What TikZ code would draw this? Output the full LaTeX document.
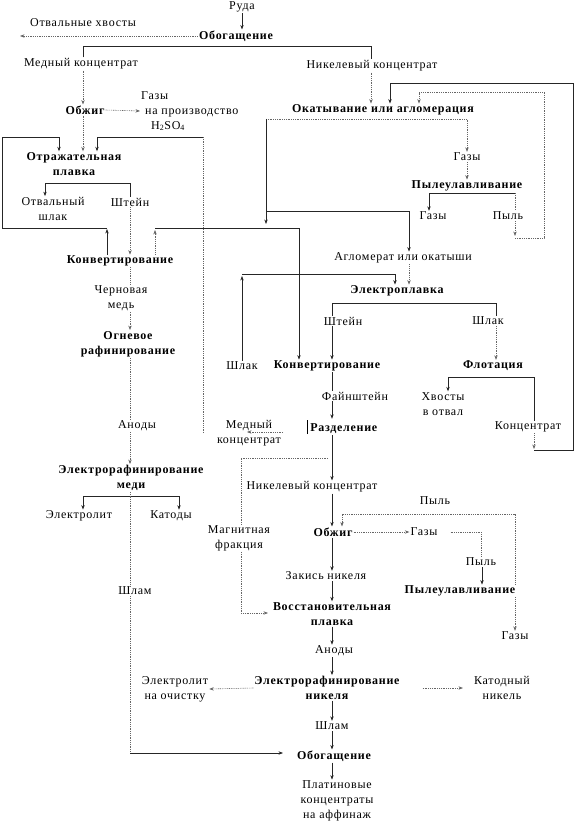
\documentclass[tikz,border=0pt]{standalone}
\usepackage{fontspec}
\setmainfont[LetterSpace=6]{Liberation Serif}
\usetikzlibrary{arrows.meta,calc}
\newcommand{\fsz}{\fontsize{12}{15}\selectfont}
\begin{document}
\begin{tikzpicture}[x=1pt,y=-1pt,
  tx/.style={inner sep=1pt, align=center, font=\fsz},
  bx/.style={inner sep=1pt, align=center, font=\fsz\bfseries},
  ln/.style={draw=black!85, line width=0.6pt},
  dl/.style={draw=black!60, line width=0.6pt, dash pattern=on 0.9pt off 0.9pt},
  tip/.style={-{Stealth[length=4.5pt,width=3.4pt]}},
  larr/.style={ln, tip},
  darr/.style={dl, tip},
  rarr/.style={ln, {Stealth[length=4.5pt,width=3.4pt]}-}
]
\useasboundingbox (0,0) rectangle (574,824);
% ---------- nodes ----------
\node[tx] (ruda) at (242,7) {Руда};
\node[bx] (obog1) at (236,36) {Обогащение};
\node[tx] (otvx) at (83,23) {Отвальные хвосты};
\node[tx] (medk) at (81,64) {Медный концентрат};
\node[tx] (nikk) at (372,66) {Никелевый концентрат};
\node[bx] (obzh1) at (85,110) {Обжиг};
\node[tx, align=left, anchor=west] (gazy1) at (140,111) {Газы\\\hspace{4pt}на производство\\\hspace{10pt}H\textsubscript{2}SO\textsubscript{4}};
\node[bx] (okat) at (383,110) {Окатывание или агломерация};
\node[bx] (otrazh) at (74,164) {Отражательная\\плавка};
\node[tx] (gazy2) at (467,157) {Газы};
\node[bx] (pyl1) at (467,186) {Пылеулавливание};
\node[tx] (otvsh) at (53,209) {Отвальный\\шлак};
\node[tx] (shtein1) at (130,202) {Штейн};
\node[tx] (gazy3) at (433,216) {Газы};
\node[tx] (pyl2) at (508,216) {Пыль};
\node[tx] (aglo) at (403,258) {Агломерат или окатыши};
\node[bx] (konv1) at (120,261) {Конвертирование};
\node[bx] (elpl) at (397,291) {Электроплавка};
\node[tx] (chern) at (121,298) {Черновая\\медь};
\node[tx] (shtein2) at (343,321) {Штейн};
\node[tx] (shlak2) at (488,321) {Шлак};
\node[bx] (ogn) at (128,344) {Огневое\\рафинирование};
\node[tx] (shlak1) at (242,366) {Шлак};
\node[bx] (konv2) at (327,366) {Конвертирование};
\node[bx] (flot) at (493,366) {Флотация};
\node[tx] (faint) at (355,396) {Файнштейн};
\node[tx] (hvost) at (443,404) {Хвосты\\в отвал};
\node[tx] (anody1) at (137,426) {Аноды};
\node[tx] (medk2) at (249,433) {Медный\\концентрат};
\node[bx] (razd) at (342,427) {\rule[-3pt]{1.6pt}{14pt}\hspace{2pt}Разделение};
\node[tx] (konc) at (528,427) {Концентрат};
\node[bx] (elmed) at (131,478) {Электрорафинирование\\меди};
\node[tx] (nikk2) at (312,487) {Никелевый концентрат};
\node[tx] (pyl3) at (435,501) {Пыль};
\node[tx] (elektrolit) at (79,516) {Электролит};
\node[tx] (katody) at (171,516) {Катоды};
\node[tx] (magn) at (239,538) {Магнитная\\фракция};
\node[bx] (obzh2) at (333,532) {Обжиг};
\node[tx] (gazy4) at (424,532) {Газы};
\node[tx] (pyl4) at (481,562) {Пыль};
\node[tx] (zakis) at (326,576) {Закись никеля};
\node[tx] (shlam1) at (135,591) {Шлам};
\node[bx] (pyl5) at (460,591) {Пылеулавливание};
\node[bx] (vosst) at (332,614) {Восстановительная\\плавка};
\node[tx] (gazy5) at (515,636) {Газы};
\node[tx] (anody2) at (334,651) {Аноды};
\node[bx] (elnik) at (327,688) {Электрорафинирование\\никеля};
\node[tx] (eloch) at (175,689) {Электролит\\на очистку};
\node[tx] (katnik) at (502,688) {Катодный\\никель};
\node[tx] (shlam2) at (332,726) {Шлам};
\node[bx] (obog2) at (334,756) {Обогащение};
\node[tx] (plat) at (337,801) {Платиновые\\концентраты\\на аффинаж};
% ---------- connectors: top ----------
\draw[larr] (ruda.south) -- (ruda.south |- obog1.north);
\draw[darr] (obog1.west) -- (obog1.west -| 20,0);
\draw[ln] (83,0 |- medk.north) -- (83,46) -- (371,46) -- (371,0 |- nikk.north);
\draw[darr] (83,0 |- medk.south) -- (83,0 |- obzh1.north);
\draw[darr] (obzh1.east) -- (gazy1.west);
\draw[darr] (83,0 |- obzh1.south) -- (83,0 |- otrazh.north);
% copper side loops
\draw[larr] (107,0 |- konv1.north) -- (107,229);
\draw[larr] (107,228) -- (2,228) -- (2,137) -- (59,137) -- (59,0 |- otrazh.north);
\draw[dl] (203,0 |- medk2.center) -- (203,137);
\draw[larr] (203,137) -- (97,137) -- (97,0 |- otrazh.north);
\draw[rarr] (45,0 |- otvsh.north) |- (130,183) -- (130,0 |- shtein1.north);
\draw[darr] (130,0 |- shtein1.south) -- (130,0 |- konv1.north);
\draw[darr] (155,0 |- konv1.north) -- (155,230);
\draw[larr] (155,228) -- (299,228) -- (299,0 |- konv2.north);
\draw[dl] (130,0 |- konv1.south) -- (130,0 |- chern.north);
\draw[darr] (130,0 |- chern.south) -- (130,0 |- ogn.north);
\draw[dl] (130,0 |- ogn.south) -- (130,0 |- anody1.north);
\draw[darr] (130,0 |- anody1.south) -- (130,0 |- elmed.north);
\draw[ln, {Stealth[length=4.5pt,width=3.4pt]}-{Stealth[length=4.5pt,width=3.4pt]}] (83,0 |- elektrolit.north) |- (179,496) -- (179,0 |- katody.north);
\draw[dl] (130,0 |- elmed.south) -- (130,0 |- shlam1.north);
\draw[dl] (130,0 |- shlam1.south) -- (130,753);
\draw[larr] (130,753) -- (283,753);
% ---------- nickel side ----------
\draw[darr] (371,0 |- nikk.south) -- (371,0 |- okat.north);
\draw[rarr] (534,0 |- hvost.north) ++(-86,0) |- (534,377) -- (534,0 |- konc.north);
\draw[darr] (534,0 |- konc.south) -- (534,449);
\draw[larr] (534,450) -- (573,450) -- (573,83) -- (390,83) -- (390,0 |- okat.north);
\draw[darr] (515,0 |- pyl2.south) -- (515,236);
\draw[darr] (515,238) -- (544,238) -- (544,92) -- (419,92) -- (419,0 |- okat.north);
\draw[darr] (266,119) -- (467,119) -- (467,0 |- gazy2.north);
\draw[larr] (266,119) -- (266,224);
\draw[larr] (266,211) -- (409,211) -- (409,0 |- aglo.north);
\draw[darr] (467,0 |- gazy2.south) -- (467,0 |- pyl1.north);
\draw[rarr] (429,0 |- gazy3.north) |- (515,193);
\draw[dl] (515,193) -- (515,0 |- pyl2.north);
\draw[darr] (409,0 |- aglo.south) -- (409,0 |- elpl.north);
\draw[larr] (242,0 |- shlak1.north) -- (242,276);
\draw[larr] (242,274) -- (395,274) -- (395,0 |- elpl.north);
\draw[ln] (332,0 |- shtein2.north) |- (496,303) -- (496,0 |- shlak2.north);
\draw[larr] (332,0 |- shtein2.south) -- (332,0 |- konv2.north);
\draw[darr] (496,0 |- shlak2.south) -- (496,0 |- flot.north);
\draw[ln] (332,0 |- konv2.south) -- (332,0 |- faint.north);
\draw[larr] (332,0 |- faint.south) -- (332,0 |- razd.north);
\draw[darr] (283,432) -- (247,432);
\draw[larr] (332,0 |- razd.south) -- (332,0 |- nikk2.north);
\draw[dl] (328,458) -- (241,458) -- (241,0 |- magn.north);
\draw[darr] (241,0 |- magn.south) -- (241,613) -- (268,613);
\draw[larr] (332,0 |- nikk2.south) -- (332,0 |- obzh2.north);
\draw[darr] (obzh2.east) -- (gazy4.west);
\draw[dl] ([xshift=12pt]gazy4.east) -| (pyl4.north);
\draw[larr] (482,0 |- pyl4.south) -- (482,0 |- pyl5.north);
\draw[darr] (515,0 |- pyl5.north) -- (515,514) -- (342,514) -- (342,0 |- obzh2.north);
\draw[darr] (515,0 |- pyl5.south) -- (515,0 |- gazy5.north);
\draw[larr] (332,0 |- obzh2.south) -- (332,0 |- zakis.north);
\draw[larr] (332,0 |- zakis.south) -- (332,0 |- vosst.north);
\draw[larr] (332,0 |- vosst.south) -- (332,0 |- anody2.north);
\draw[larr] (332,0 |- anody2.south) -- (332,0 |- elnik.north);
\draw[darr] (elnik.west) -- (eloch.east);
\draw[darr] ([xshift=22pt]elnik.east) -- ([xshift=-10pt]katnik.west);
\draw[larr] (332,0 |- elnik.south) -- (332,0 |- shlam2.north);
\draw[larr] (332,0 |- shlam2.south) -- (332,0 |- obog2.north);
\draw[larr] (332,0 |- obog2.south) -- (332,0 |- plat.north);
\end{tikzpicture}
\end{document}
